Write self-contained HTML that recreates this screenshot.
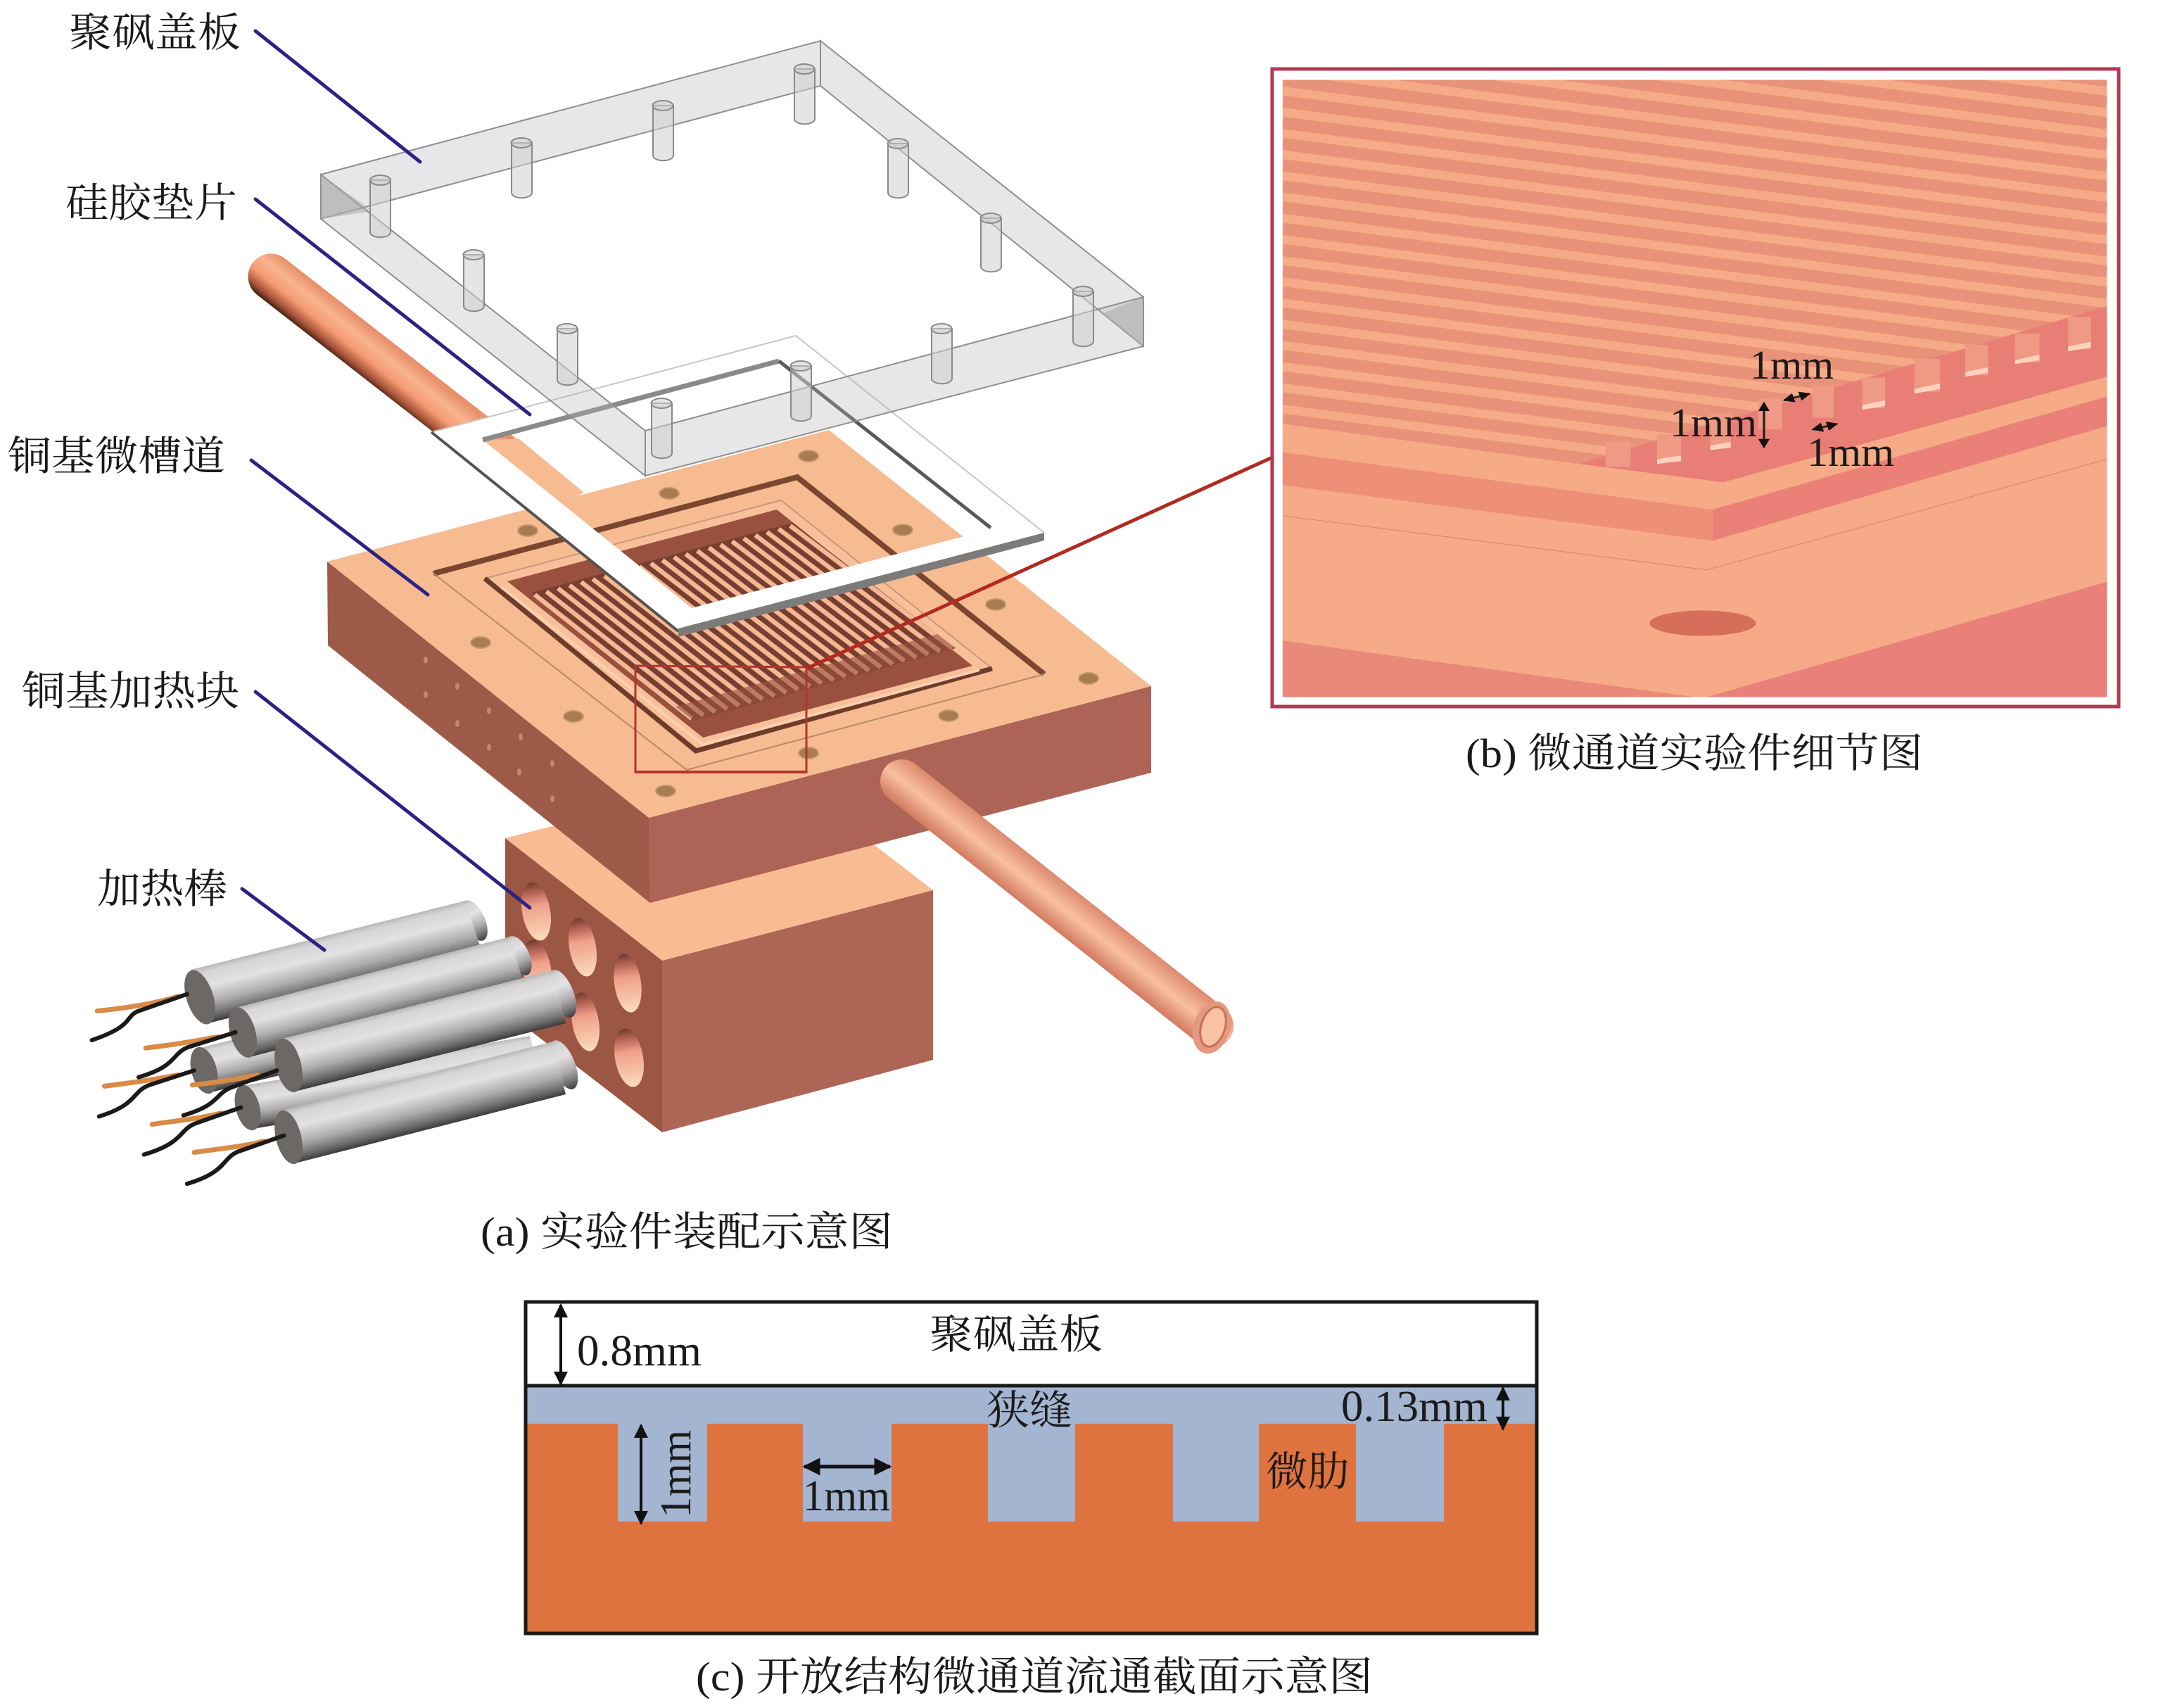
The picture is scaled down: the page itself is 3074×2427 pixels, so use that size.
<!DOCTYPE html>
<html lang="zh">
<head>
<meta charset="utf-8">
<title>微通道实验件</title>
<style>
html,body{margin:0;padding:0;background:#fff;overflow:hidden}
svg{display:block}
text{font-family:"Liberation Serif","Noto Serif CJK SC",serif;fill:#1a1a1a}
</style>
</head>
<body>
<svg width="3074" height="2427" viewBox="0 0 3074 2427" xmlns="http://www.w3.org/2000/svg">
<defs>
<linearGradient id="rod" x1="0" y1="0" x2="0" y2="1">
<stop offset="0" stop-color="#b8b6b6"/><stop offset=".1" stop-color="#d6d4d4"/><stop offset=".35" stop-color="#e4e1e4"/><stop offset=".65" stop-color="#aeabad"/><stop offset=".88" stop-color="#6a6869"/><stop offset="1" stop-color="#3c3a3a"/>
</linearGradient>
<linearGradient id="tube1" gradientUnits="userSpaceOnUse" x1="420" y1="380" x2="380" y2="430">
<stop offset="0" stop-color="#e8906a"/><stop offset=".3" stop-color="#f8b48f"/><stop offset=".6" stop-color="#f49a72"/><stop offset=".85" stop-color="#a8553a"/><stop offset="1" stop-color="#4a2014"/>
</linearGradient>
<linearGradient id="tube2" gradientUnits="userSpaceOnUse" x1="1301" y1="1086" x2="1263" y2="1134">
<stop offset="0" stop-color="#dd8a70"/><stop offset=".5" stop-color="#f9c0a0"/><stop offset="1" stop-color="#d27a60"/>
</linearGradient>
<linearGradient id="hole" x1="0" y1="0" x2="0" y2="1">
<stop offset="0" stop-color="#6e3a30"/><stop offset=".14" stop-color="#a85a4c"/><stop offset=".4" stop-color="#ef9f8a"/><stop offset="1" stop-color="#fbdcbc"/>
</linearGradient>
<marker id="ah" viewBox="0 0 10 10" refX="9" refY="5" markerWidth="5" markerHeight="5" orient="auto-start-reverse" markerUnits="strokeWidth">
<path d="M0 0L10 5L0 10z" fill="#111"/>
</marker>
<clipPath id="pb"><rect x="28" y="50" width="1442" height="1310"/></clipPath>
<clipPath id="ribs"><polygon points="28,50 1470,50 1470,530 545,865 28,780"/></clipPath>
</defs>

<rect width="3074" height="2427" fill="#fff"/>

<!-- heater block -->
<polygon points="718,1191 1103,1093 1326,1265 941,1365" fill="#f8bb92"/>
<polygon points="718,1191 941,1365 941,1609 718,1437" fill="#9b5644"/>
<polygon points="941,1365 1326,1265 1326,1506 941,1609" fill="#ad6555"/>
<g fill="url(#hole)">
<ellipse cx="762" cy="1295" rx="20" ry="42" transform="rotate(-10 762 1295)"/>
<ellipse cx="828" cy="1346" rx="19" ry="42" transform="rotate(-10 828 1346)"/>
<ellipse cx="892" cy="1397" rx="19" ry="42" transform="rotate(-8 892 1397)"/>
<ellipse cx="832" cy="1452" rx="19" ry="42" transform="rotate(-10 832 1452)"/>
<ellipse cx="894" cy="1503" rx="20" ry="42" transform="rotate(-10 894 1503)"/>
<ellipse cx="763" cy="1377" rx="20" ry="42" transform="rotate(-10 763 1377)"/>
</g>

<!-- heater rods -->
<g>
<ellipse cx="674" cy="1308" rx="15" ry="31" transform="rotate(-25 674 1308)" fill="url(#rod)"/>
<rect width="1" height="1" fill="url(#rod)" transform="matrix(390,-98,25,76,271,1378)"/>
<ellipse cx="284" cy="1417" rx="19" ry="40" transform="rotate(-18 284 1417)" fill="#6b6865"/>
<rect width="1" height="1" fill="url(#rod)" transform="matrix(340,-84,12,64,284,1489)"/>
<ellipse cx="290" cy="1521" rx="18" ry="34" transform="rotate(-15 290 1521)" fill="#6b6865"/>
<rect width="1" height="1" fill="url(#rod)" transform="matrix(408,-71,15,61,345,1543)"/>
<ellipse cx="352" cy="1574" rx="17" ry="33" transform="rotate(-15 352 1574)" fill="#6b6865"/>
<ellipse cx="737" cy="1358" rx="15" ry="30" transform="rotate(-25 737 1358)" fill="url(#rod)"/>
<rect width="1" height="1" fill="url(#rod)" transform="matrix(390,-101,20,70,335,1432)"/>
<ellipse cx="345" cy="1467" rx="18" ry="37" transform="rotate(-16 345 1467)" fill="#6b6865"/>
<ellipse cx="799" cy="1412" rx="16" ry="36" transform="rotate(-22 799 1412)" fill="url(#rod)"/>
<rect width="1" height="1" fill="url(#rod)" transform="matrix(385,-97,18,75,401,1476)"/>
<ellipse cx="410" cy="1514" rx="18" ry="39" transform="rotate(-14 410 1514)" fill="#6b6865"/>
<ellipse cx="801" cy="1513" rx="16" ry="37" transform="rotate(-22 801 1513)" fill="url(#rod)"/>
<rect width="1" height="1" fill="url(#rod)" transform="matrix(385,-98,18,75,401,1578)"/>
<ellipse cx="410" cy="1616" rx="18" ry="39" transform="rotate(-14 410 1616)" fill="#6b6865"/>
</g>
<g transform="translate(100,1250) scale(.5102,.3189)" fill="none" stroke-linecap="round" stroke-linejoin="round">
<g stroke="#d98a45" stroke-width="7">
<path vector-effect="non-scaling-stroke" d="M300 520C240 550 170 570 75 585"/>
<path vector-effect="non-scaling-stroke" d="M410 700C350 720 290 735 210 750"/>
<path vector-effect="non-scaling-stroke" d="M300 870C240 890 170 905 95 920"/>
<path vector-effect="non-scaling-stroke" d="M520 870C460 890 400 905 340 915"/>
<path vector-effect="non-scaling-stroke" d="M420 1040C360 1065 290 1075 228 1090"/>
<path vector-effect="non-scaling-stroke" d="M540 1165C480 1190 410 1200 345 1215"/>
</g>
<g stroke="#1c1a18" stroke-width="6">
<path vector-effect="non-scaling-stroke" d="M325 510L190 585C150 610 180 650 60 715"/>
<path vector-effect="non-scaling-stroke" d="M460 680L330 745C280 775 300 830 190 880"/>
<path vector-effect="non-scaling-stroke" d="M345 850L220 915C170 945 190 1000 80 1055"/>
<path vector-effect="non-scaling-stroke" d="M575 850L450 925C400 955 420 1000 315 1050"/>
<path vector-effect="non-scaling-stroke" d="M475 1015L350 1085C300 1115 320 1170 205 1225"/>
<path vector-effect="non-scaling-stroke" d="M595 1140L470 1210C420 1240 440 1300 325 1355"/>
</g>
</g>

<!-- upper-left tube -->
<line x1="385" y1="393" x2="760" y2="685" stroke="url(#tube1)" stroke-width="65" stroke-linecap="round"/>

<!-- copper plate -->
<polygon points="465,798 922,1162 924,1283 466,917" fill="#9d5a48"/>
<polygon points="922,1162 1636,975 1636,1098 924,1283" fill="#ad6355"/>
<polygon points="465,798 1178,611 1636,975 922,1162" fill="#f7bb92"/>

<!-- plate side micro holes -->
<g fill="#c08870">
<ellipse cx="605" cy="938" rx="3" ry="5"/><ellipse cx="650" cy="975" rx="3" ry="5"/><ellipse cx="695" cy="1010" rx="3" ry="5"/><ellipse cx="740" cy="1047" rx="3" ry="5"/><ellipse cx="785" cy="1085" rx="3" ry="5"/>
<ellipse cx="605" cy="987" rx="3" ry="5"/><ellipse cx="650" cy="1028" rx="3" ry="5"/><ellipse cx="695" cy="1062" rx="3" ry="5"/><ellipse cx="738" cy="1097" rx="3" ry="5"/><ellipse cx="785" cy="1135" rx="3" ry="5"/>
</g>

<!-- plate screw holes -->
<g fill="#a87c50" stroke="#c79a6c" stroke-width="2">
<ellipse cx="1149" cy="648" rx="14" ry="8"/><ellipse cx="951" cy="701" rx="14" ry="8"/><ellipse cx="1283" cy="753" rx="14" ry="8"/><ellipse cx="1415" cy="859" rx="14" ry="8"/><ellipse cx="1547" cy="964" rx="14" ry="8"/><ellipse cx="1348" cy="1017" rx="14" ry="8"/><ellipse cx="1149" cy="1070" rx="14" ry="8"/><ellipse cx="946" cy="1124" rx="14" ry="8"/><ellipse cx="815" cy="1018" rx="14" ry="8"/><ellipse cx="683" cy="913" rx="14" ry="8"/><ellipse cx="750" cy="754" rx="14" ry="8"/>
</g>

<!-- grooves -->
<polyline points="616,815 1133,678 1484,958" fill="none" stroke="#7a4630" stroke-width="8"/>
<polyline points="616,815 976,1094 1484,958" fill="none" stroke="#b58b66" stroke-width="2"/>
<polygon points="689,822 1110,711 1410,950 989,1067" fill="#f8c09a" stroke="#c9977a" stroke-width="2"/>
<polyline points="689,822 989,1067 1410,950" fill="none" stroke="#6e3c2a" stroke-width="7"/>
<polygon points="721,826 1104,724 1382,946 999,1048" fill="#99503f"/>
<polyline points="712,834 999,1058 1392,952" fill="none" stroke="#fbd0b0" stroke-width="4"/>

<!-- ribs -->
<polygon points="756,842 1126,743 1358,921 986,1024" fill="#763f2f"/>
<path fill="none" stroke="#f6b794" stroke-width="6.5" d="M760 845L983 1021M776.5 840.5L999.8 1016.5M793 836L1016.6 1012M809.5 831.5L1033.4 1007.4M826 827L1050.2 1002.8M842.5 822.7L1067 998.3M859 818.3L1083.8 993.7M875.5 813.9L1100.6 989.2M892 809.4L1117.4 984.6M908.5 805L1134.2 980M925 800.5L1151 975.5M941.5 796L1167.8 971M958 791.6L1184.6 966.4M974.5 787.2L1201.4 961.8M991 782.7L1218.2 957.3M1007.5 778.2L1235 952.8M1024 773.8L1251.8 948.2M1040.5 769.3L1268.6 943.6M1057 764.9L1285.4 939.1M1073.5 760.4L1302.2 934.5M1090 756L1319 930M1106.5 751.5L1335.8 925.5M1123 747L1353 921"/>
<polygon points="986,1024 1358,921 1332,901 960,1004" fill="#99503f" fill-opacity=".6"/>

<!-- tube seen through window -->
<polygon points="688,626 737,623 830,700 790,720" fill="#f7bb92"/>

<!-- gasket -->
<path fill="#fff" fill-rule="evenodd" d="M613,614 L1131,477 L1484,757 L964,895 Z M686,625 L1107,513 L1408,752 L983,864 Z"/>
<polyline points="613,614 1131,477 1484,757" fill="none" stroke="#c9c6c4" stroke-width="2"/>
<polyline points="686,625 1107,513" fill="none" stroke="#8c8a88" stroke-width="7"/>
<polyline points="1107,513 1408,750" fill="none" stroke="#5a5958" stroke-width="5"/>
<line x1="613" y1="614" x2="964" y2="897" stroke="#55534f" stroke-width="4"/>
<polygon points="964,893 1484,757 1484,768 964,905" fill="#7d7b7a"/>

<!-- red box and leader -->
<path d="M903 946L1146 948V1097H903z" fill="none" stroke="#b5332e" stroke-width="3"/>
<line x1="903" y1="1097" x2="1146" y2="1097" stroke="#b5332e" stroke-width="4"/>
<line x1="1146" y1="950" x2="1808" y2="650" stroke="#b22a20" stroke-width="5"/>

<!-- front tube -->
<line x1="1282" y1="1110" x2="1722" y2="1458" stroke="url(#tube2)" stroke-width="62" stroke-linecap="round"/>
<ellipse cx="1722" cy="1460" rx="26" ry="38" transform="rotate(17 1722 1460)" fill="#e49a80"/>
<ellipse cx="1724" cy="1459" rx="17" ry="29" transform="rotate(17 1724 1459)" fill="#f9c2a4" stroke="#c8705a" stroke-width="3"/>

<!-- transparent cover -->
<g stroke="#8f8f8f" stroke-width="2" fill="#b4b2b8" fill-opacity=".32">
<polygon points="456,248 1166,58 1166,122 456,311"/>
<polygon points="1166,58 1625,422 1625,492 1166,122"/>
<polygon points="456,248 917,612 917,676 456,311"/>
<polygon points="917,612 1625,422 1625,492 917,676"/>
</g>
<g fill="#cfcfd2" fill-opacity=".55" stroke="#8a8a8a" stroke-width="2">
<path d="M526 256v74a14 7 0 0 0 29 0v-74z"/><ellipse cx="540.5" cy="256" rx="14.5" ry="7"/>
<path d="M727 203v71a14 7 0 0 0 29 0v-71z"/><ellipse cx="741" cy="203" rx="14.5" ry="7"/>
<path d="M928 150v71a14 7 0 0 0 29 0v-71z"/><ellipse cx="942" cy="150" rx="14.5" ry="7"/>
<path d="M1129 98v71a14 7 0 0 0 29 0v-71z"/><ellipse cx="1143" cy="98" rx="14.5" ry="7"/>
<path d="M1262 204v70a14 7 0 0 0 29 0v-70z"/><ellipse cx="1276" cy="204" rx="14.5" ry="7"/>
<path d="M1394 310v69a14 7 0 0 0 29 0v-69z"/><ellipse cx="1408" cy="310" rx="14.5" ry="7"/>
<path d="M1525 414v71a14 7 0 0 0 29 0v-71z"/><ellipse cx="1539" cy="414" rx="14.5" ry="7"/>
<path d="M1324 467v71a14 7 0 0 0 29 0v-71z"/><ellipse cx="1338" cy="467" rx="14.5" ry="7"/>
<path d="M1124 520v71a14 7 0 0 0 29 0v-71z"/><ellipse cx="1138" cy="520" rx="14.5" ry="7"/>
<path d="M926 573v71a14 7 0 0 0 29 0v-71z"/><ellipse cx="940" cy="573" rx="14.5" ry="7"/>
<path d="M792 467v73a14 7 0 0 0 29 0v-73z"/><ellipse cx="806" cy="467" rx="14.5" ry="7"/>
<path d="M659 362v73a14 7 0 0 0 29 0v-73z"/><ellipse cx="673" cy="362" rx="14.5" ry="7"/>
</g>
<polygon points="1568,445 1625,422 1625,492" fill="#a8a6a8" fill-opacity=".5"/>
<polygon points="456,248 530,300 456,311" fill="#a8a6a8" fill-opacity=".5"/>

<!-- leader lines -->
<g stroke="#2b2285" stroke-width="5" stroke-linecap="round">
<line x1="363" y1="44" x2="597" y2="230"/>
<line x1="363" y1="283" x2="753" y2="589"/>
<line x1="357" y1="654" x2="608" y2="845"/>
<line x1="363" y1="983" x2="753" y2="1290"/>
<line x1="344" y1="1263" x2="461" y2="1350"/>
</g>

<!-- part labels -->
<g font-size="58">
<text x="98" y="66" textLength="244" lengthAdjust="spacingAndGlyphs">聚砜盖板</text>
<text x="93" y="308" textLength="244" lengthAdjust="spacingAndGlyphs">硅胶垫片</text>
<text x="11" y="668" textLength="309" lengthAdjust="spacingAndGlyphs">铜基微槽道</text>
<text x="31" y="1002" textLength="309" lengthAdjust="spacingAndGlyphs">铜基加热块</text>
<text x="138" y="1283" textLength="185" lengthAdjust="spacingAndGlyphs">加热棒</text>
<text x="683" y="1770" textLength="586" lengthAdjust="spacingAndGlyphs">(a) 实验件装配示意图</text>
<text x="2083" y="1090" textLength="650" lengthAdjust="spacingAndGlyphs">(b) 微通道实验件细节图</text>
<text x="989" y="2402" textLength="962" lengthAdjust="spacingAndGlyphs">(c) 开放结构微通道流通截面示意图</text>
</g>

<!-- panel b -->
<rect x="1808" y="98" width="1203" height="906" fill="#fff" stroke="#b03a50" stroke-width="5"/>
<g transform="translate(1800,80) scale(.8125,.6696)">
<g clip-path="url(#pb)">
<rect x="28" y="50" width="1442" height="1310" fill="#f7aa88"/>
<g clip-path="url(#ribs)">
<path fill="none" stroke="#e8927a" stroke-width="26" d="M28 -219L1470 7M28 -174L1470 52M28 -129L1470 97M28 -84L1470 142M28 -39L1470 187M28 6L1470 232M28 51L1470 277M28 96L1470 322M28 141L1470 367M28 186L1470 412M28 231L1470 457M28 276L1470 502M28 321L1470 547M28 366L1470 592M28 411L1470 637M28 456L1470 682M28 501L1470 727M28 546L1470 772M28 591L1470 817M28 636L1470 862M28 681L1470 907M28 726L1470 952M28 771L1470 997"/>
</g>
<polygon points="545,865 799,904 1470,680 1470,530" fill="#e87e76"/>
<g fill="#ee9a85">
<path d="M593 817h44v54h-44z"/><path d="M683 802h42v59h-42z"/><path d="M776 757h36v75h-36z"/><path d="M860 727h42v65h-42z"/><path d="M955 697h37v70h-37z"/><path d="M1042 682h40v65h-40z"/><path d="M1133 642h45v70h-45z"/><path d="M1222 612h40v65h-40z"/><path d="M1309 588h43v62h-43z"/><path d="M1402 553h40v69h-40z"/>
</g>
<g fill="#fbd2bb">
<path d="M683 855l42-8v12l-42 6z"/><path d="M776 826l36-8v12l-36 6z"/><path d="M1042 740l40-10v12l-40 8z"/><path d="M1133 706l45-12v12l-45 10z"/><path d="M1222 670l40-10v12l-40 8z"/><path d="M1309 645l43-12v12l-43 8z"/><path d="M1402 616l40-10v12l-40 8z"/>
</g>
<polygon points="28,790 545,865 799,904 1470,680 1470,722 780,962 28,840" fill="#f6ab86"/>
<polygon points="28,840 780,962 780,1028 28,910" fill="#ee9077"/>
<polygon points="780,962 1470,722 1470,785 780,1028" fill="#ea8078"/>
<polyline points="28,975 770,1090 1470,855" fill="none" stroke="#d98e70" stroke-width="2"/>
<polygon points="28,1240 750,1360 28,1360" fill="#e8897a"/>
<polygon points="1470,1115 770,1360 1470,1360" fill="#e9807a"/>
<ellipse cx="763" cy="1203" rx="93" ry="27" fill="#d76e5a"/>
<path d="M790 1178A93 27 0 0 1 856 1196A93 27 0 0 0 790 1178z" fill="#f9c6a8"/>
</g>
<g fill="none" stroke="#222" stroke-width="4" marker-start="url(#ah)" marker-end="url(#ah)">
<line x1="905" y1="730" x2="950" y2="716"/>
<line x1="870" y1="735" x2="870" y2="830"/>
<line x1="955" y1="792" x2="998" y2="780"/>
</g>
</g>
<g font-size="58">
<text x="2487" y="538" textLength="119" lengthAdjust="spacingAndGlyphs">1mm</text>
<text x="2373" y="620" textLength="124" lengthAdjust="spacingAndGlyphs">1mm</text>
<text x="2568" y="662" textLength="124" lengthAdjust="spacingAndGlyphs">1mm</text>
</g>

<!-- panel c -->
<rect x="747" y="1850" width="1437" height="471" fill="#de7340"/>
<rect x="747" y="1850" width="1437" height="119" fill="#fff"/>
<rect x="747" y="1969" width="1437" height="54" fill="#a4b5d2"/>
<g fill="#a4b5d2">
<rect x="878" y="2023" width="127" height="139"/>
<rect x="1141" y="2023" width="126" height="139"/>
<rect x="1404" y="2023" width="124" height="139"/>
<rect x="1667" y="2023" width="122" height="139"/>
<rect x="1927" y="2023" width="125" height="139"/>
</g>
<rect x="747" y="1850" width="1437" height="471" fill="none" stroke="#1a1a1a" stroke-width="5"/>
<line x1="747" y1="1969" x2="2184" y2="1969" stroke="#1a1a1a" stroke-width="5"/>
<g fill="none" stroke="#111" stroke-width="4" marker-start="url(#ah)" marker-end="url(#ah)">
<line x1="797" y1="1854" x2="797" y2="1967"/>
<line x1="2136" y1="1972" x2="2136" y2="2031"/>
<line x1="911" y1="2025" x2="911" y2="2165"/>
<line x1="1143" y1="2084" x2="1265" y2="2084" stroke-width="5"/>
</g>
<g font-size="58">
<text x="1321" y="1916" textLength="246" lengthAdjust="spacingAndGlyphs">聚砜盖板</text>
<text x="820" y="1940" font-size="62" textLength="177" lengthAdjust="spacingAndGlyphs">0.8mm</text>
<text x="1402" y="2024" textLength="122" lengthAdjust="spacingAndGlyphs">狭缝</text>
<text x="1906" y="2019" font-size="62" textLength="208" lengthAdjust="spacingAndGlyphs">0.13mm</text>
<text x="1141" y="2146" font-size="62" textLength="124" lengthAdjust="spacingAndGlyphs">1mm</text>
<text x="1799" y="2111" textLength="119" lengthAdjust="spacingAndGlyphs">微肋</text>
<text transform="translate(981,2157) rotate(-90)" font-size="62" textLength="125" lengthAdjust="spacingAndGlyphs">1mm</text>
</g>
</svg>
</body>
</html>
